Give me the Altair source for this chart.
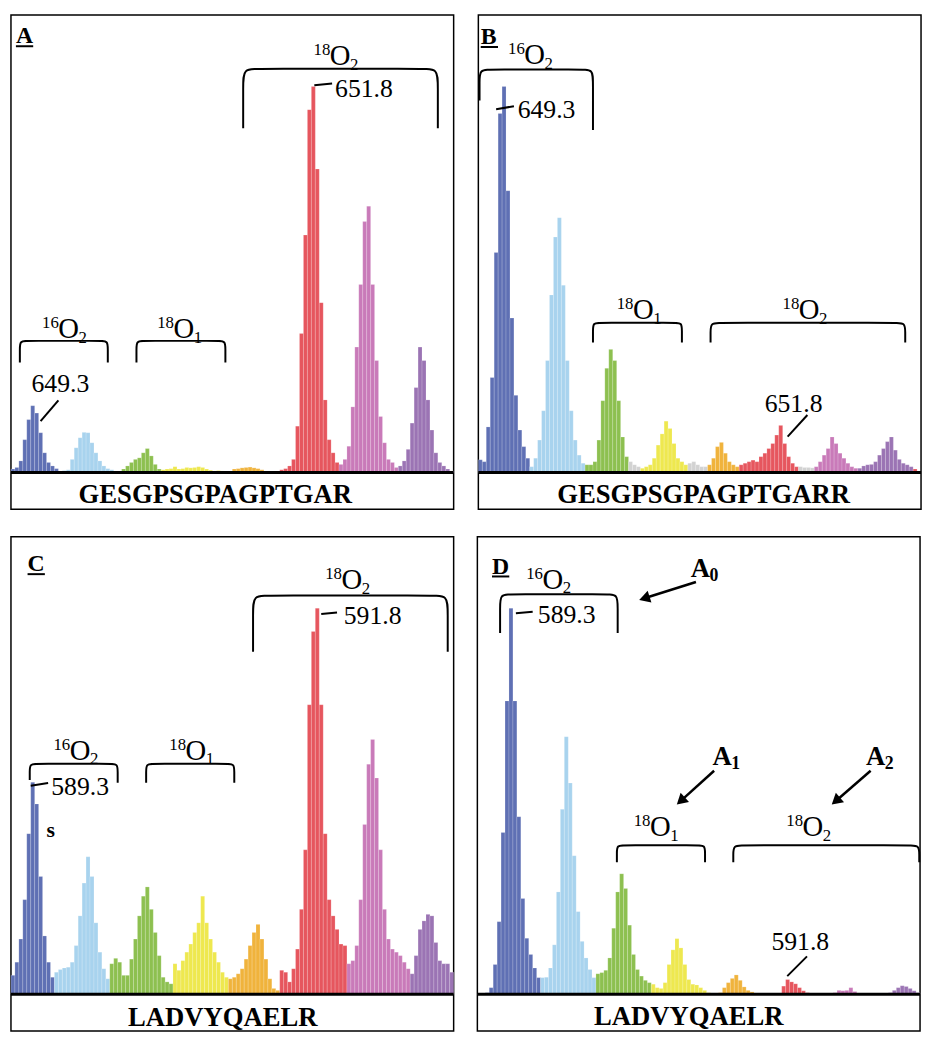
import math
import altair as alt
import pandas as pd

# ---------------- data (relative intensity, tallest peak = 100) ----------------
# one bar per channel; each panel lists its colour runs in m/z order
A_blue = [0.9, 1.3, 3, 8.5, 13.7, 17.3, 15.4, 10.3, 5.1, 2.6, 1.7, 1.0]
A_lightblue = [0.3, 0.5, 0.7, 3.4, 6.4, 9, 10.4, 10.3, 7.7, 5.1, 3, 1.7, 1, 0.7, 0.3]
A_green = [0.3, 0.9, 1.7, 2.6, 3.4, 3.8, 5.1, 6.2, 4.3, 2.1, 0.9]
A_yellow = [0.7, 0.9, 1, 1.5, 0.9, 1, 1.3, 1.2, 1.3, 1.5, 1.3, 0.9, 0.6, 0.4, 0.5, 0.4, 0.3]
A_orange = [0.3, 0.9, 1, 1.2, 1.3, 1.4, 1.2, 1, 0.7, 0.3, 0.2, 0.3]
A_red = [0.3, 0.7, 1, 1.7, 3.4, 12, 36, 61.5, 94, 100, 78.6, 44, 18.8, 8.5, 5.1, 2.6]
A_magenta = [2.1, 3.4, 6.8, 17, 32.5, 48.7, 65, 69, 48.7, 29, 14.5, 7.7, 3.4, 2.6, 1.3]
A_purple = [1.7, 3, 6, 12.8, 22, 32.5, 29, 18.8, 11, 5.1, 2.6, 1.7, 0.9, 0.4]

B_blue = [3.3, 2.8, 11.8, 24.6, 57, 93, 100, 73, 40, 20, 11, 6.7, 3.7]
B_lightblue = [1.5, 3.7, 8.4, 16, 29, 46, 61, 66, 48.5, 29, 16, 8.4, 4.5, 2.4]
B_green = [2, 2, 2.8, 8.4, 18.6, 27, 31.9, 29, 18.6, 9.2, 4.1]
B_gray1 = [2.8, 2, 1.5]
B_yellow = [1.1, 1.5, 2, 3.7, 7.1, 10, 13.3, 11.4, 7.5, 3.7, 2.8, 2]
B_gray2 = [2.4, 2.8, 2, 1.5, 1.5]
B_orange = [2, 3.7, 6.7, 7.8, 5, 2.8, 2, 1.5]
B_red = [2, 2.4, 2.8, 3.2, 2.8, 4.1, 5, 6.2, 7.5, 9.7, 12.2, 7.5, 4.1, 2.4, 1.5]
B_gray3 = [1.5, 1.3, 1.3, 1.2]
B_magenta = [1.5, 2.8, 4.5, 6.2, 9.2, 7.5, 5, 3.7, 2.4, 1.5, 1.1]
B_purple = [1.1, 1.7, 2, 2.1, 2.8, 4.5, 6.2, 8, 9.2, 5.8, 3.4, 2.4, 2, 1.5]
B_red2 = [0.9]

C_blue = [4.9, 8.3, 14.3, 24.5, 41.6, 54.9, 49.3, 30.5, 15.1, 8.3, 4.4]
C_lightblue = [5.7, 6.4, 6.8, 7, 8.3, 12.6, 20.3, 28.8, 35.6, 30.5, 18.5, 10.9, 6.6, 4]
C_green = [7.9, 9.3, 8.3, 4.9, 4.9, 9.1, 14.3, 20.3, 25.4, 27.8, 22, 16, 10, 4.4, 3.2, 2.7]
C_yellow = [7.9, 6.2, 8.7, 10.9, 13, 16, 18.5, 25.4, 18.5, 14.3, 10.9, 8.3, 5.7, 4.4]
C_orange = [4, 4.4, 5.3, 6.6, 9.1, 12.6, 16, 18.1, 14.3, 9.1, 4, 1.5, 1]
C_red = [6.2, 5.7, 3.2, 6.6, 11.7, 22, 37.4, 75, 94, 100, 75, 41.6, 24.5, 20.3, 16.8, 13, 12.6]
C_magenta = [7.9, 8.7, 12.6, 24.5, 44, 59.6, 66, 56, 37.4, 22, 14.3, 11.7, 10.9, 10, 8.3, 6.6]
C_purple = [5.3, 10, 16.8, 19, 20.7, 20.3, 13.4, 8.7, 7.9, 7.9, 5.7]

D_blue = [0, 0.2, 0.4, 1.7, 7.7, 18.8, 41.9, 76, 100, 76, 46, 24.8, 14.5, 10.3, 6.8, 4.3]
D_lightblue = [4.3, 4.4, 6.8, 12.8, 26.5, 47.9, 66.7, 54.7, 35.9, 21.4, 13.7, 9.4, 6.4, 4.3]
D_green = [5.3, 5.6, 6.2, 9.4, 17.1, 26.5, 31.2, 27.4, 17.9, 10.3, 6.4, 4.7, 3.6, 3]
D_yellow = [2.6, 1.7, 1.5, 3, 7.7, 11.5, 14.4, 12, 7.7, 3.8, 2.6, 2.4, 1.7, 1, 0.4]
D_orange = [0, 0, 0.4, 1.7, 3, 4.1, 5, 3.6, 1.9, 1, 0.6, 0.2, 0, 0, 0, 0, 0, 0.2]
D_red = [2.1, 3.8, 3.2, 2.7, 1.7, 0.9, 0.4, 0, 0, 0, 0, 0]
D_magenta = [0.2, 0.4, 1, 0.9, 1, 1.7, 0.7, 0, 0, 0, 0, 0]
D_purple = [0, 0, 0.2, 0.4, 1, 1.7, 2.2, 2, 1.5, 0.9, 0.4]

SPECTRA = {
    "A": [("blue", A_blue), ("lightblue", A_lightblue), ("green", A_green), ("yellow", A_yellow),
          ("orange", A_orange), ("red", A_red), ("magenta", A_magenta), ("purple", A_purple)],
    "B": [("blue", B_blue), ("lightblue", B_lightblue), ("green", B_green), ("gray", B_gray1),
          ("yellow", B_yellow), ("gray", B_gray2), ("orange", B_orange), ("red", B_red),
          ("gray", B_gray3), ("magenta", B_magenta), ("purple", B_purple), ("red", B_red2)],
    "C": [("blue", C_blue), ("lightblue", C_lightblue), ("green", C_green), ("yellow", C_yellow),
          ("orange", C_orange), ("red", C_red), ("magenta", C_magenta), ("purple", C_purple)],
    "D": [("blue", D_blue), ("lightblue", D_lightblue), ("green", D_green), ("yellow", D_yellow),
          ("orange", D_orange), ("red", D_red), ("magenta", D_magenta), ("purple", D_purple)],
}

SEQUENCES = {"A": ("GESGPSGPAGPTGAR", 51.7, -8.0), "B": ("GESGPSGPAGPTGARR", 57.0, -8.0),
             "C": ("LADVYQAELR", 53.6, -8.2), "D": ("LADVYQAELR", 53.5, -8.0)}
PANEL_LETTERS = {"A": (1.25, 111.2), "B": (0.6, 111.0), "C": (4.2, 109.6), "D": (3.7, 109.0)}

# bracket: x1, x2, top, left end, right end, corner
BRACKETS = {
    "A": [(2.25, 24.5, 34.1, 28.5, 28.5, 2.0), (31.75, 54.25, 34.1, 28.5, 28.5, 2.0),
          (58.75, 108.0, 104.6, 89.2, 89.2, 4.0)],
    "B": [(0.3, 29.0, 104.4, 96.4, 88.7, 3.0), (29.0, 51.5, 38.8, 33.7, 33.7, 2.0),
          (58.75, 108.0, 38.8, 33.7, 33.7, 2.5)],
    "C": [(4.75, 27.0, 59.7, 55.5, 54.8, 2.0), (34.2, 56.5, 59.7, 54.8, 54.8, 2.0),
          (61.25, 110.5, 103.3, 88.7, 88.7, 4.0)],
    "D": [(5.75, 35.5, 103.6, 93.6, 93.6, 3.0), (35.3, 57.6, 38.6, 34.2, 34.2, 2.0),
          (64.75, 111.8, 38.6, 34.2, 34.2, 2.5)],
}
# isotope labels: O centre x, baseline y, superscript, subscript
ISOTOPES = {
    "A": [(14.6, 34.8, "16", "2"), (43.75, 34.8, "18", "1"), (83.3, 105.6, "18", "2")],
    "B": [(14.25, 105.9, "16", "2"), (41.75, 39.7, "18", "1"), (83.7, 39.7, "18", "2")],
    "C": [(17.5, 60.8, "16", "2"), (46.8, 60.8, "18", "1"), (86.25, 104.9, "18", "2")],
    "D": [(19.1, 105.1, "16", "2"), (46.3, 41.0, "18", "1"), (84.9, 41.0, "18", "2")],
}
MZ_LABELS = {
    "A": [(12.5, 20.8, "649.3"), (89.3, 97.4, "651.8")],
    "B": [(17.25, 91.8, "649.3"), (79.75, 15.7, "651.8")],
    "C": [(17.5, 51.5, "589.3"), (91.5, 95.9, "591.8")],
    "D": [(22.6, 96.2, "589.3"), (81.7, 11.5, "591.8")],
}
LEADERS = {
    "A": [(7.5, 13.3, 12.0, 18.7), (76.75, 100.3, 81.25, 100.8)],
    "B": [(4.5, 94.1, 9.0, 94.9), (78.25, 9.3, 83.25, 14.9)],
    "C": [(5.0, 54.0, 9.4, 54.7), (78.5, 98.5, 82.5, 98.9)],
    "D": [(9.75, 98.7, 14.0, 99.1), (78.4, 4.7, 83.4, 9.8)],
}
D_A_LABELS = [(54.0, 108.2, "0"), (59.5, 59.4, "1"), (98.3, 59.4, "2")]
D_ARROWS = [(55.3, 106.8, 40.75, 102.1), (59.9, 57.9, 50.3, 49.0), (99.5, 57.9, 89.5, 49.0)]
C_S_LABEL = [(9.0, 40.8, "s")]

COLORS = {"blue": "#5f70b4", "lightblue": "#a8d3ee", "green": "#8dc050", "yellow": "#eee84f",
          "orange": "#f0b33c", "red": "#e6565e", "magenta": "#c97ab9", "purple": "#9b74b4",
          "gray": "#d2d2d2"}

# ---------------- layout ----------------
W, H = 448, 500
XMAX = 112.0
YMIN, YMAX = -9.5, 118.5
PXX = W / XMAX
PXY = H / (YMAX - YMIN)
SERIF = "Liberation Serif"

xs = alt.Scale(domain=[0, XMAX], nice=False, zero=False)
ys = alt.Scale(domain=[YMIN, YMAX], nice=False, zero=False)


def X(f):
    return alt.X(f, type="quantitative", scale=xs, axis=None)


def Y(f):
    return alt.Y(f, type="quantitative", scale=ys, axis=None)


def panel(key):
    rows = []
    i = 0
    for cname, vals in SPECTRA[key]:
        for v in vals:
            rows.append({"x0": i, "x1": i + 1, "h": v, "y0": 0, "c": cname})
            i += 1
    bars_df = pd.DataFrame(rows)
    bars = alt.Chart(bars_df).mark_bar(stroke="white", strokeWidth=0.5, strokeOpacity=0.35).encode(
        x=X("x0"), x2="x1", y=Y("h"), y2="y0",
        color=alt.Color("c:N", scale=alt.Scale(domain=list(COLORS), range=list(COLORS.values())), legend=None),
    )

    base_df = pd.DataFrame({"xa": [0], "xb": [XMAX], "y": [0]})
    baseline = alt.Chart(base_df).mark_rule(color="black", strokeWidth=3).encode(
        x=X("xa"), x2="xb", y=Y("y"))

    # brackets
    brows = []
    for b, (x1, x2, yt, yl, yr, r) in enumerate(BRACKETS[key]):
        rx = r
        ry = r * PXX / PXY
        pts = [(x1, yl), (x1, yl), (x1, yt - ry), (x1, yt), (x1 + rx, yt), (x2 - rx, yt),
               (x2, yt), (x2, yt - ry), (x2, yr), (x2, yr)]
        for k, (px, py) in enumerate(pts):
            brows.append({"b": b, "k": k, "x": px, "y": py})
    brackets = alt.Chart(pd.DataFrame(brows)).mark_line(
        color="black", strokeWidth=2, interpolate="basis").encode(
        x=X("x"), y=Y("y"), detail="b:N", order="k:Q")

    iso_df = pd.DataFrame([{"x": a, "y": b, "sup": c, "sub": d, "o": "O"} for a, b, c, d in ISOTOPES[key]])
    iso_o = alt.Chart(iso_df).mark_text(font=SERIF, fontSize=29, align="center", baseline="alphabetic",
                                        color="black").encode(x=X("x"), y=Y("y"), text="o:N")
    iso_sup = alt.Chart(iso_df).mark_text(font=SERIF, fontSize=17, align="right", baseline="alphabetic",
                                          dx=-10, dy=-10, color="black").encode(x=X("x"), y=Y("y"), text="sup:N")
    iso_sub = alt.Chart(iso_df).mark_text(font=SERIF, fontSize=17, align="left", baseline="alphabetic",
                                          dx=10, dy=5, color="black").encode(x=X("x"), y=Y("y"), text="sub:N")

    mz_df = pd.DataFrame([{"x": a, "y": b, "t": c} for a, b, c in MZ_LABELS[key]])
    mz = alt.Chart(mz_df).mark_text(font=SERIF, fontSize=26, align="center", baseline="alphabetic",
                                    color="black").encode(x=X("x"), y=Y("y"), text="t:N")

    ld_df = pd.DataFrame([{"x": a, "y": b, "x2": c, "y2": d} for a, b, c, d in LEADERS[key]])
    leaders = alt.Chart(ld_df).mark_rule(color="black", strokeWidth=2).encode(
        x=X("x"), y=Y("y"), x2="x2", y2="y2")

    seq_t, seq_x, seq_y = SEQUENCES[key]
    seq = alt.Chart(pd.DataFrame({"x": [seq_x], "y": [seq_y], "t": [seq_t]})).mark_text(
        font=SERIF, fontSize=27, fontWeight="bold", align="center", baseline="alphabetic",
        color="black").encode(x=X("x"), y=Y("y"), text="t:N")

    lx, ly = PANEL_LETTERS[key]
    let_df = pd.DataFrame({"x": [lx], "y": [ly], "t": [key], "xe": [lx + 17.5 / PXX], "yu": [ly - 3 / PXY]})
    letter = alt.Chart(let_df).mark_text(font=SERIF, fontSize=24, fontWeight="bold", align="left",
                                         baseline="alphabetic", color="black").encode(
        x=X("x"), y=Y("y"), text="t:N")
    underline = alt.Chart(let_df).mark_rule(color="black", strokeWidth=2).encode(
        x=X("x"), x2="xe", y=Y("yu"))

    layers = [bars, baseline, brackets, leaders, iso_o, iso_sup, iso_sub, mz, seq, letter, underline]

    if key == "C":
        s_df = pd.DataFrame([{"x": a, "y": b, "t": c} for a, b, c in C_S_LABEL])
        layers.append(alt.Chart(s_df).mark_text(font=SERIF, fontSize=22, fontWeight="bold", align="left",
                                                baseline="alphabetic", color="black").encode(
            x=X("x"), y=Y("y"), text="t:N"))
    if key == "D":
        al_df = pd.DataFrame([{"x": a, "y": b, "s": c, "a": "A"} for a, b, c in D_A_LABELS])
        layers.append(alt.Chart(al_df).mark_text(font=SERIF, fontSize=27, fontWeight="bold", align="left",
                                                 baseline="alphabetic", color="black").encode(
            x=X("x"), y=Y("y"), text="a:N"))
        layers.append(alt.Chart(al_df).mark_text(font=SERIF, fontSize=18, fontWeight="bold", align="left",
                                                 baseline="alphabetic", dx=19, dy=4, color="black").encode(
            x=X("x"), y=Y("y"), text="s:N"))
        arows = []
        head_size = 160
        r = math.sqrt(head_size) / 2
        for (x1, y1, x2, y2) in D_ARROWS:
            dxp = (x2 - x1) * PXX
            dyp = -(y2 - y1) * PXY
            L = math.hypot(dxp, dyp)
            ux, uy = dxp / L, dyp / L
            ang = math.degrees(math.atan2(ux, -uy)) % 360
            cx = x2 - r * ux / PXX
            cy = y2 + r * uy / PXY
            arows.append({"x": x1, "y": y1, "cx": cx, "cy": cy, "ang": ang})
        ar_df = pd.DataFrame(arows)
        layers.append(alt.Chart(ar_df).mark_rule(color="black", strokeWidth=2.5).encode(
            x=X("x"), y=Y("y"), x2="cx", y2="cy"))
        layers.append(alt.Chart(ar_df).mark_point(shape="triangle-up", filled=True, color="black",
                                                  size=head_size, opacity=1).encode(
            x=X("cx"), y=Y("cy"), angle=alt.Angle("ang:Q", scale=None)))

    return alt.layer(*layers).properties(width=W, height=H)


top = alt.hconcat(panel("A"), panel("B"), spacing=18)
bottom = alt.hconcat(panel("C"), panel("D"), spacing=18)
chart = alt.vconcat(top, bottom, spacing=26).properties(padding=0, background="white").configure_view(
    stroke="black", strokeWidth=1.5)

chart.save("out.html", embed_options={"renderer": "svg", "actions": False})
